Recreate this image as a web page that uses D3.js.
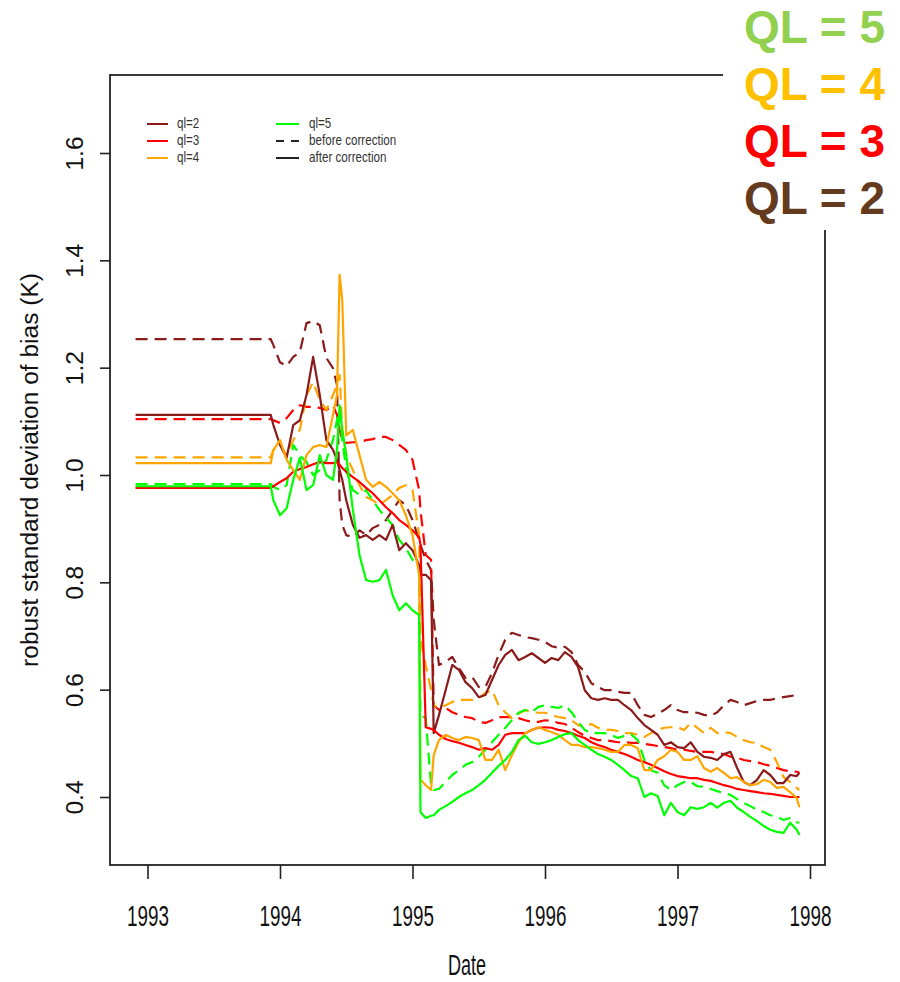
<!DOCTYPE html>
<html>
<head>
<meta charset="utf-8">
<script src="https://cdn.jsdelivr.net/npm/d3@7"></script>
<style>
    body { margin: 0; background: #fff; }
    text { font-family: "Liberation Sans", Arial, sans-serif; }
</style>
</head>
<body>
<svg id="chart" width="900" height="982"></svg>
<script>
// sampling dates, decimal years
var dates = [1992.91, 1993.93, 1993.95, 1994.00, 1994.05, 1994.10, 1994.15, 1994.20, 1994.25, 1994.30,
    1994.35, 1994.40, 1994.43, 1994.45, 1994.47, 1994.50, 1994.55, 1994.60, 1994.65, 1994.70,
    1994.75, 1994.80, 1994.85, 1994.90, 1994.95, 1995.00, 1995.05, 1995.06, 1995.10, 1995.14,
    1995.16, 1995.20,
    1995.25, 1995.30, 1995.35, 1995.40, 1995.45, 1995.50, 1995.55, 1995.60, 1995.65, 1995.70, 1995.75, 1995.80, 1995.85, 1995.90, 1995.95, 1996.00,
    1996.05, 1996.10, 1996.15, 1996.20, 1996.25, 1996.30, 1996.35, 1996.40, 1996.45, 1996.50, 1996.55, 1996.60, 1996.65, 1996.70, 1996.75, 1996.80,
    1996.85, 1996.90, 1996.95, 1997.00, 1997.05, 1997.10, 1997.15, 1997.20, 1997.25, 1997.30, 1997.35, 1997.40, 1997.45, 1997.50, 1997.55, 1997.60,
    1997.65, 1997.70, 1997.75, 1997.80, 1997.85, 1997.90, 1997.92];

// robust std dev of bias (K), before / after correction
var ql2Before = [1.253, 1.253, 1.242, 1.210, 1.203, 1.220, 1.229, 1.283, 1.287, 1.279,
    1.218, 1.199, 1.168, 0.953, 0.907, 0.888, 0.884, 0.897, 0.888, 0.901,
    0.907, 0.916, 0.935, 0.953, 0.944, 0.916, 0.879, 0.870, 0.842, 0.823, 0.730, 0.646,
    0.652, 0.661, 0.640, 0.622, 0.624, 0.605, 0.605, 0.631, 0.665, 0.693, 0.706, 0.702, 0.698, 0.696, 0.693, 0.689,
    0.681, 0.678, 0.680, 0.670, 0.646, 0.633, 0.612, 0.605, 0.599, 0.599, 0.596, 0.594, 0.594, 0.571, 0.553, 0.549,
    0.555, 0.562, 0.571, 0.562, 0.558, 0.558, 0.557, 0.553, 0.551, 0.558, 0.571, 0.581, 0.577, 0.571, 0.575, 0.579,
    0.581, 0.581, 0.584, 0.586, 0.588, 0.590, 0.592];
var ql2After = [1.112, 1.112, 1.093, 1.056, 1.032, 1.093, 1.102, 1.149, 1.220, 1.149,
    1.065, 1.047, 1.028, 1.009, 0.991, 0.953, 0.907, 0.883, 0.888, 0.879,
    0.888, 0.879, 0.907, 0.860, 0.873, 0.860, 0.832, 0.814, 0.814, 0.804, 0.519, 0.553,
    0.599, 0.646, 0.637, 0.614, 0.603, 0.586, 0.590, 0.618, 0.646, 0.665, 0.674, 0.655, 0.661, 0.668, 0.659, 0.650,
    0.659, 0.655, 0.670, 0.661, 0.642, 0.599, 0.584, 0.581, 0.584, 0.581, 0.581, 0.571, 0.562, 0.547, 0.534, 0.525,
    0.516, 0.497, 0.502, 0.493, 0.491, 0.502, 0.484, 0.475, 0.473, 0.469, 0.480, 0.484, 0.454, 0.428, 0.422, 0.432,
    0.450, 0.441, 0.426, 0.426, 0.441, 0.439, 0.445];
var ql3Before = [1.104, 1.104, 1.102, 1.097, 1.106, 1.121, 1.130, 1.127, 1.127, 1.125,
    1.121, 1.130, 1.112, 1.084, 1.065, 1.060, 1.061, 1.061, 1.065, 1.067,
    1.071, 1.071, 1.065, 1.056, 1.047, 1.028, 0.972, 0.935, 0.851, 0.842, 0.571, 0.562,
    0.566, 0.558, 0.553, 0.549, 0.547, 0.540, 0.538, 0.543, 0.549, 0.549, 0.549, 0.547, 0.543, 0.540, 0.540, 0.543,
    0.542, 0.538, 0.536, 0.529, 0.521, 0.514, 0.510, 0.506, 0.506, 0.504, 0.502, 0.502, 0.501, 0.501, 0.499, 0.497,
    0.495, 0.493, 0.491, 0.488, 0.488, 0.486, 0.484, 0.484, 0.484, 0.482, 0.480, 0.475, 0.473, 0.469, 0.467, 0.465,
    0.461, 0.458, 0.454, 0.450, 0.448, 0.447, 0.445];
var ql3After = [0.976, 0.976, 0.979, 0.987, 0.994, 1.006, 1.011, 1.015, 1.020, 1.024,
    1.022, 1.022, 1.024, 1.019, 1.013, 1.006, 0.996, 0.987, 0.976, 0.966,
    0.953, 0.940, 0.929, 0.916, 0.907, 0.897, 0.884, 0.870, 0.530, 0.527, 0.525, 0.516,
    0.508, 0.504, 0.501, 0.497, 0.493, 0.488, 0.491, 0.488, 0.497, 0.516, 0.519, 0.519, 0.519, 0.525, 0.529, 0.530,
    0.529, 0.525, 0.523, 0.519, 0.514, 0.510, 0.502, 0.497, 0.493, 0.488, 0.484, 0.480, 0.475, 0.469, 0.465, 0.460,
    0.454, 0.448, 0.443, 0.439, 0.437, 0.435, 0.435, 0.432, 0.430, 0.426, 0.422, 0.419, 0.415, 0.413, 0.411, 0.409,
    0.407, 0.406, 0.404, 0.402, 0.400, 0.400, 0.400];
var ql4Before = [1.033, 1.033, 1.047, 1.056, 1.037, 1.065, 1.084, 1.149, 1.173, 1.140,
    1.121, 1.149, 1.168, 1.186, 1.084, 1.037, 1.009, 0.981, 0.959, 0.953,
    0.944, 0.953, 0.963, 0.976, 0.981, 0.972, 0.888, 0.693, 0.646, 0.599, 0.571, 0.566,
    0.571, 0.577, 0.581, 0.581, 0.581, 0.584, 0.594, 0.599, 0.571, 0.558, 0.547, 0.555, 0.562, 0.558, 0.557, 0.557,
    0.553, 0.549, 0.547, 0.543, 0.534, 0.530, 0.536, 0.529, 0.525, 0.525, 0.523, 0.519, 0.519, 0.516, 0.512, 0.519,
    0.525, 0.529, 0.530, 0.530, 0.525, 0.538, 0.529, 0.519, 0.529, 0.519, 0.521, 0.519, 0.512, 0.506, 0.502, 0.501,
    0.493, 0.488, 0.465, 0.437, 0.428, 0.417, 0.413];
var ql4After = [1.022, 1.022, 1.047, 1.065, 1.028, 1.009, 0.991, 1.037, 1.052, 1.056,
    1.052, 1.112, 1.149, 1.373, 1.326, 1.074, 1.084, 1.037, 0.991, 0.978,
    0.987, 0.978, 0.966, 0.953, 0.925, 0.888, 0.814, 0.432, 0.422, 0.413, 0.478, 0.506,
    0.516, 0.510, 0.506, 0.512, 0.510, 0.506, 0.469, 0.469, 0.488, 0.450, 0.478, 0.502, 0.519, 0.525, 0.530, 0.525,
    0.521, 0.516, 0.506, 0.497, 0.497, 0.493, 0.493, 0.491, 0.488, 0.484, 0.484, 0.497, 0.497, 0.491, 0.450, 0.450,
    0.469, 0.476, 0.488, 0.484, 0.469, 0.469, 0.476, 0.454, 0.447, 0.454, 0.445, 0.435, 0.437, 0.428, 0.422, 0.424,
    0.432, 0.428, 0.417, 0.419, 0.409, 0.398, 0.381];
var ql5Before = [0.983, 0.983, 0.978, 0.972, 0.981, 1.056, 1.037, 1.024, 1.000, 1.009,
    1.028, 1.065, 1.102, 1.121, 1.065, 1.009, 0.972, 0.963, 0.972, 0.953,
    0.935, 0.920, 0.907, 0.879, 0.864, 0.842, 0.827, 0.553, 0.547, 0.422, 0.413, 0.415,
    0.428, 0.441, 0.450, 0.460, 0.465, 0.475, 0.488, 0.502, 0.516, 0.529, 0.543, 0.557, 0.562, 0.558, 0.568, 0.571,
    0.568, 0.566, 0.571, 0.558, 0.540, 0.525, 0.519, 0.519, 0.519, 0.516, 0.510, 0.514, 0.517, 0.506, 0.469, 0.450,
    0.445, 0.422, 0.413, 0.422, 0.428, 0.428, 0.420, 0.419, 0.415, 0.411, 0.407, 0.404, 0.396, 0.389, 0.383, 0.376,
    0.372, 0.366, 0.363, 0.357, 0.361, 0.353, 0.352];
var ql5After = [0.979, 0.979, 0.953, 0.925, 0.938, 0.991, 1.032, 0.972, 0.981, 1.037,
    1.000, 0.991, 1.047, 1.130, 1.084, 1.037, 0.935, 0.851, 0.804, 0.801,
    0.804, 0.823, 0.776, 0.748, 0.761, 0.748, 0.739, 0.372, 0.361, 0.365, 0.366, 0.376,
    0.383, 0.391, 0.400, 0.407, 0.413, 0.422, 0.432, 0.445, 0.458, 0.469, 0.484, 0.506, 0.514, 0.502, 0.499, 0.502,
    0.506, 0.512, 0.517, 0.519, 0.506, 0.497, 0.488, 0.480, 0.475, 0.469, 0.460, 0.450, 0.439, 0.435, 0.400, 0.407,
    0.402, 0.366, 0.389, 0.372, 0.366, 0.381, 0.378, 0.381, 0.389, 0.380, 0.389, 0.393, 0.380, 0.372, 0.363, 0.355,
    0.346, 0.339, 0.335, 0.333, 0.352, 0.339, 0.329];

var xTicks = [1993, 1994, 1995, 1996, 1997, 1998];
var yTicks = [0.4, 0.6, 0.8, 1.0, 1.2, 1.4, 1.6];
var legendLeft = ["ql=2", "ql=3", "ql=4"];
var legendRight = ["ql=5", "before correction", "after correction"];
var qlLabels = ["QL = 5", "QL = 4", "QL = 3", "QL = 2"];

var colQl = {2: "#8B1A1A", 3: "#FF0000", 4: "#FFA500", 5: "#00FF00"};
var colLabel = ["#92D050", "#FFC000", "#FF0000", "#643B1F"];

var svg = d3.select("#chart"),
    box = {left: 110, right: 825, top: 75, bottom: 865};

// R text looks condensed and stretched vertically
var sx = 0.82, sy = 1.3;

var x = d3.scaleLinear().domain([1993, 1998]).range([147.5, 810]);
var y = d3.scaleLinear().domain([0.4, 1.6]).range([797, 153]);

svg.append("rect").attr("width", 900).attr("height", 982).style("fill", "#fff");

var series = [
    {vals: ql2Before, ql: 2, dash: true},
    {vals: ql3Before, ql: 3, dash: true},
    {vals: ql4Before, ql: 4, dash: true},
    {vals: ql5Before, ql: 5, dash: true},
    {vals: ql2After, ql: 2, dash: false},
    {vals: ql3After, ql: 3, dash: false},
    {vals: ql4After, ql: 4, dash: false},
    {vals: ql5After, ql: 5, dash: false}
];

var line = d3.line()
    .x((d, i) => x(dates[i]))
    .y(d => y(d));

svg.append("g").selectAll("path")
    .data(series)
    .enter().append("path")
    .attr("d", d => line(d.vals))
    .style("fill", "none")
    .style("stroke", d => colQl[d.ql])
    .style("stroke-width", 2.2)
    .style("stroke-linejoin", "round")
    .style("stroke-dasharray", d => d.dash ? "12,7" : null);

// plot frame
svg.append("rect")
    .attr("x", box.left)
    .attr("y", box.top)
    .attr("width", box.right - box.left)
    .attr("height", box.bottom - box.top)
    .style("fill", "none")
    .style("stroke", "#222")
    .style("stroke-width", 1.8);

// x axis
var gx = svg.append("g")
    .attr("transform", "translate(0," + box.bottom + ")")
    .call(d3.axisBottom(x).tickValues(xTicks).tickSize(14).tickFormat(d3.format("d")));
gx.select(".domain").remove();
gx.selectAll("line").style("stroke", "#222").style("stroke-width", 1.6);
gx.selectAll("text")
    .attr("y", 0).attr("dy", null)
    .attr("transform", "translate(0,61) scale(" + sx + "," + sy + ")")
    .style("font-size", "23px").style("fill", "#111");

// y axis
var gy = svg.append("g")
    .attr("transform", "translate(" + box.left + ",0)")
    .call(d3.axisLeft(y).tickValues(yTicks).tickSize(10).tickFormat(d3.format(".1f")));
gy.select(".domain").remove();
gy.selectAll("line").style("stroke", "#222").style("stroke-width", 1.6);
gy.selectAll("text")
    .attr("x", 0).attr("dy", null)
    .attr("text-anchor", "middle")
    .attr("transform", "translate(-27,0) rotate(-90) scale(" + (sx * sy) + ",1)")
    .style("font-size", "23px").style("fill", "#111");

// axis titles
svg.append("text")
    .attr("transform", "translate(467,975) scale(" + sx + "," + sy + ")")
    .attr("text-anchor", "middle")
    .style("font-size", "22px").style("fill", "#111")
    .text("Date");

svg.append("text")
    .attr("transform", "translate(38,470) rotate(-90) scale(" + (sx * sy) + ",1)")
    .attr("text-anchor", "middle")
    .style("font-size", "23px").style("fill", "#111")
    .text("robust standard deviation of bias (K)");

// legend
var legendRows = [124, 141, 158];
var legScale = "scale(0.97,1.2)";
var leg = svg.append("g");
legendLeft.forEach(function (t, i) {
    leg.append("line")
        .attr("x1", 147).attr("x2", 168)
        .attr("y1", legendRows[i]).attr("y2", legendRows[i])
        .style("stroke", colQl[i + 2]).style("stroke-width", 2);
    leg.append("text")
        .attr("transform", "translate(177," + (legendRows[i] + 4) + ") " + legScale)
        .style("font-size", "12px").style("fill", "#333")
        .text(t);
});
var rightStroke = [colQl[5], "#222", "#222"];
legendRight.forEach(function (t, i) {
    leg.append("line")
        .attr("x1", 276).attr("x2", 299)
        .attr("y1", legendRows[i]).attr("y2", legendRows[i])
        .style("stroke", rightStroke[i]).style("stroke-width", 2)
        .style("stroke-dasharray", i === 1 ? "8,7" : null);
    leg.append("text")
        .attr("transform", "translate(309," + (legendRows[i] + 4) + ") " + legScale)
        .style("font-size", "12px").style("fill", "#333")
        .text(t);
});

// QL labels pasted over the top right corner
svg.append("rect")
    .attr("x", 723).attr("y", 0)
    .attr("width", 177).attr("height", 230)
    .style("fill", "#fff");

svg.append("g").selectAll("text")
    .data(qlLabels)
    .enter().append("text")
    .attr("x", 744)
    .attr("y", (d, i) => 43 + i * 57)
    .style("font-size", "46px")
    .style("font-weight", "bold")
    .style("fill", (d, i) => colLabel[i])
    .text(d => d);
</script>
</body>
</html>
